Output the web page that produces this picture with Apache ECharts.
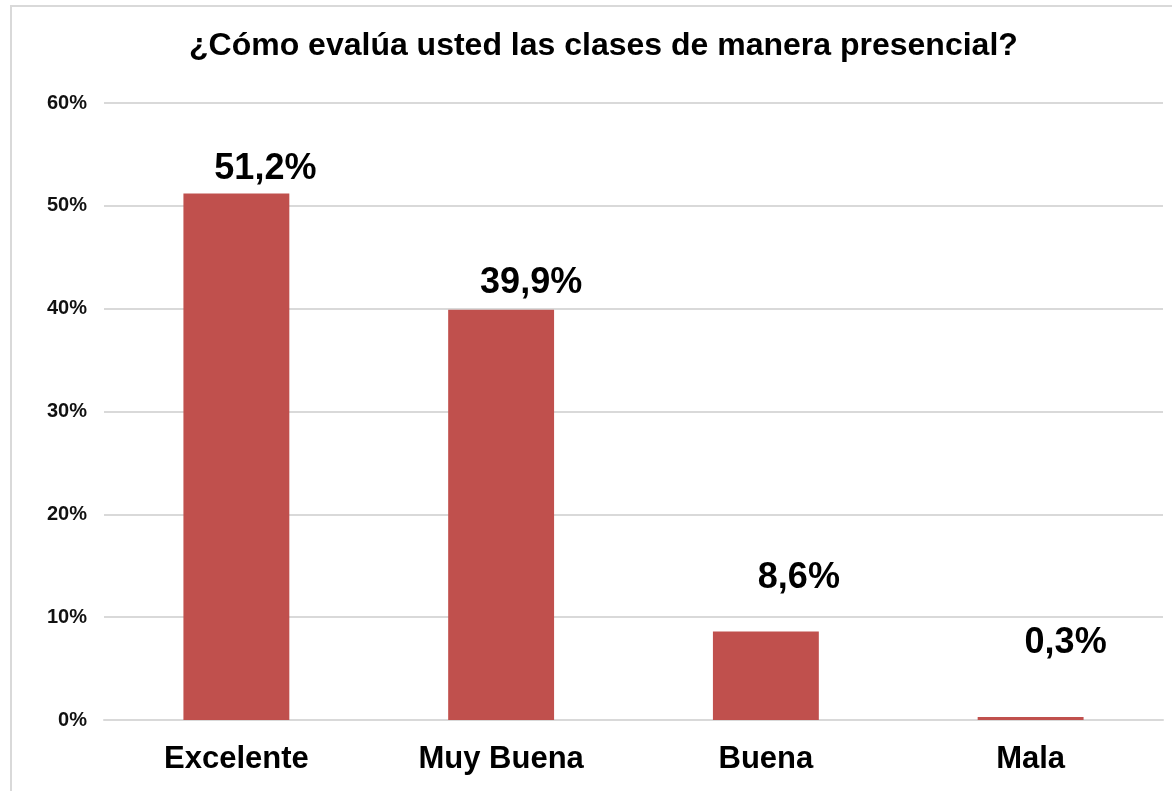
<!DOCTYPE html>
<html>
<head>
<meta charset="utf-8">
<title>Clases presenciales</title>
<script src="https://cdn.jsdelivr.net/npm/echarts@6/dist/echarts.min.js"></script>
<style>
    html, body { margin: 0; padding: 0; background: #fff; }
    #chart { width: 1172px; height: 791px; }
</style>
</head>
<body>
<div id="chart"></div>
<script>
// datos
var categorias = ['Excelente', 'Muy Buena', 'Buena', 'Mala'];
var porcentajes = [51.2, 39.9, 8.6, 0.3];
var ticksEje = [0, 10, 20, 30, 40, 50, 60];

window.onload = function () {
    var fuente = "'Liberation Sans', Arial, sans-serif";
    // desplazamiento de las etiquetas como en el original (Excel)
    var desplaz = [[29, -1], [30, -4], [33, -30], [35, -51]];

    var datos = porcentajes.map(function (v, i) {
        return { value: v, label: { offset: desplaz[i] } };
    });

    var opcion = {
        animation: false,
        backgroundColor: '#fff',
        title: {
            text: '¿Cómo evalúa usted las clases de manera presencial?',
            left: 189,
            top: 30,
            padding: 0,
            textStyle: {
                fontFamily: fuente,
                fontSize: 32,
                fontWeight: 'bold',
                color: '#000'
            }
        },
        graphic: [{
            type: 'rect',
            shape: { x: 11, y: 6, width: 1200, height: 820 },
            style: { fill: 'none', stroke: '#d9d9d9', lineWidth: 2 },
            silent: true
        }],
        grid: {
            left: 104,
            right: 9,
            top: 103,
            bottom: 71
        },
        xAxis: {
            type: 'category',
            data: categorias,
            axisTick: { show: false },
            axisLine: { lineStyle: { color: '#d9d9d9', width: 2 } },
            axisLabel: {
                margin: 24,
                fontFamily: fuente,
                fontSize: 31,
                fontWeight: 'bold',
                color: '#000'
            }
        },
        yAxis: {
            type: 'value',
            min: ticksEje[0],
            max: ticksEje[ticksEje.length - 1],
            interval: ticksEje[1] - ticksEje[0],
            axisLine: { show: false },
            axisTick: { show: false },
            splitLine: { lineStyle: { color: '#d9d9d9', width: 2 } },
            axisLabel: {
                margin: 17,
                fontFamily: fuente,
                fontSize: 20,
                fontWeight: 'bold',
                color: '#111',
                formatter: '{value}%'
            }
        },
        series: [{
            type: 'bar',
            data: datos,
            barWidth: '40%',
            itemStyle: { color: '#c0504d' },
            label: {
                show: true,
                position: 'top',
                fontFamily: fuente,
                fontSize: 36,
                fontWeight: 'bold',
                color: '#000',
                formatter: function (p) {
                    return p.value.toFixed(1).replace('.', ',') + '%';
                }
            }
        }]
    };

    var grafico = echarts.init(document.getElementById('chart'));
    grafico.setOption(opcion);
};
</script>
</body>
</html>
